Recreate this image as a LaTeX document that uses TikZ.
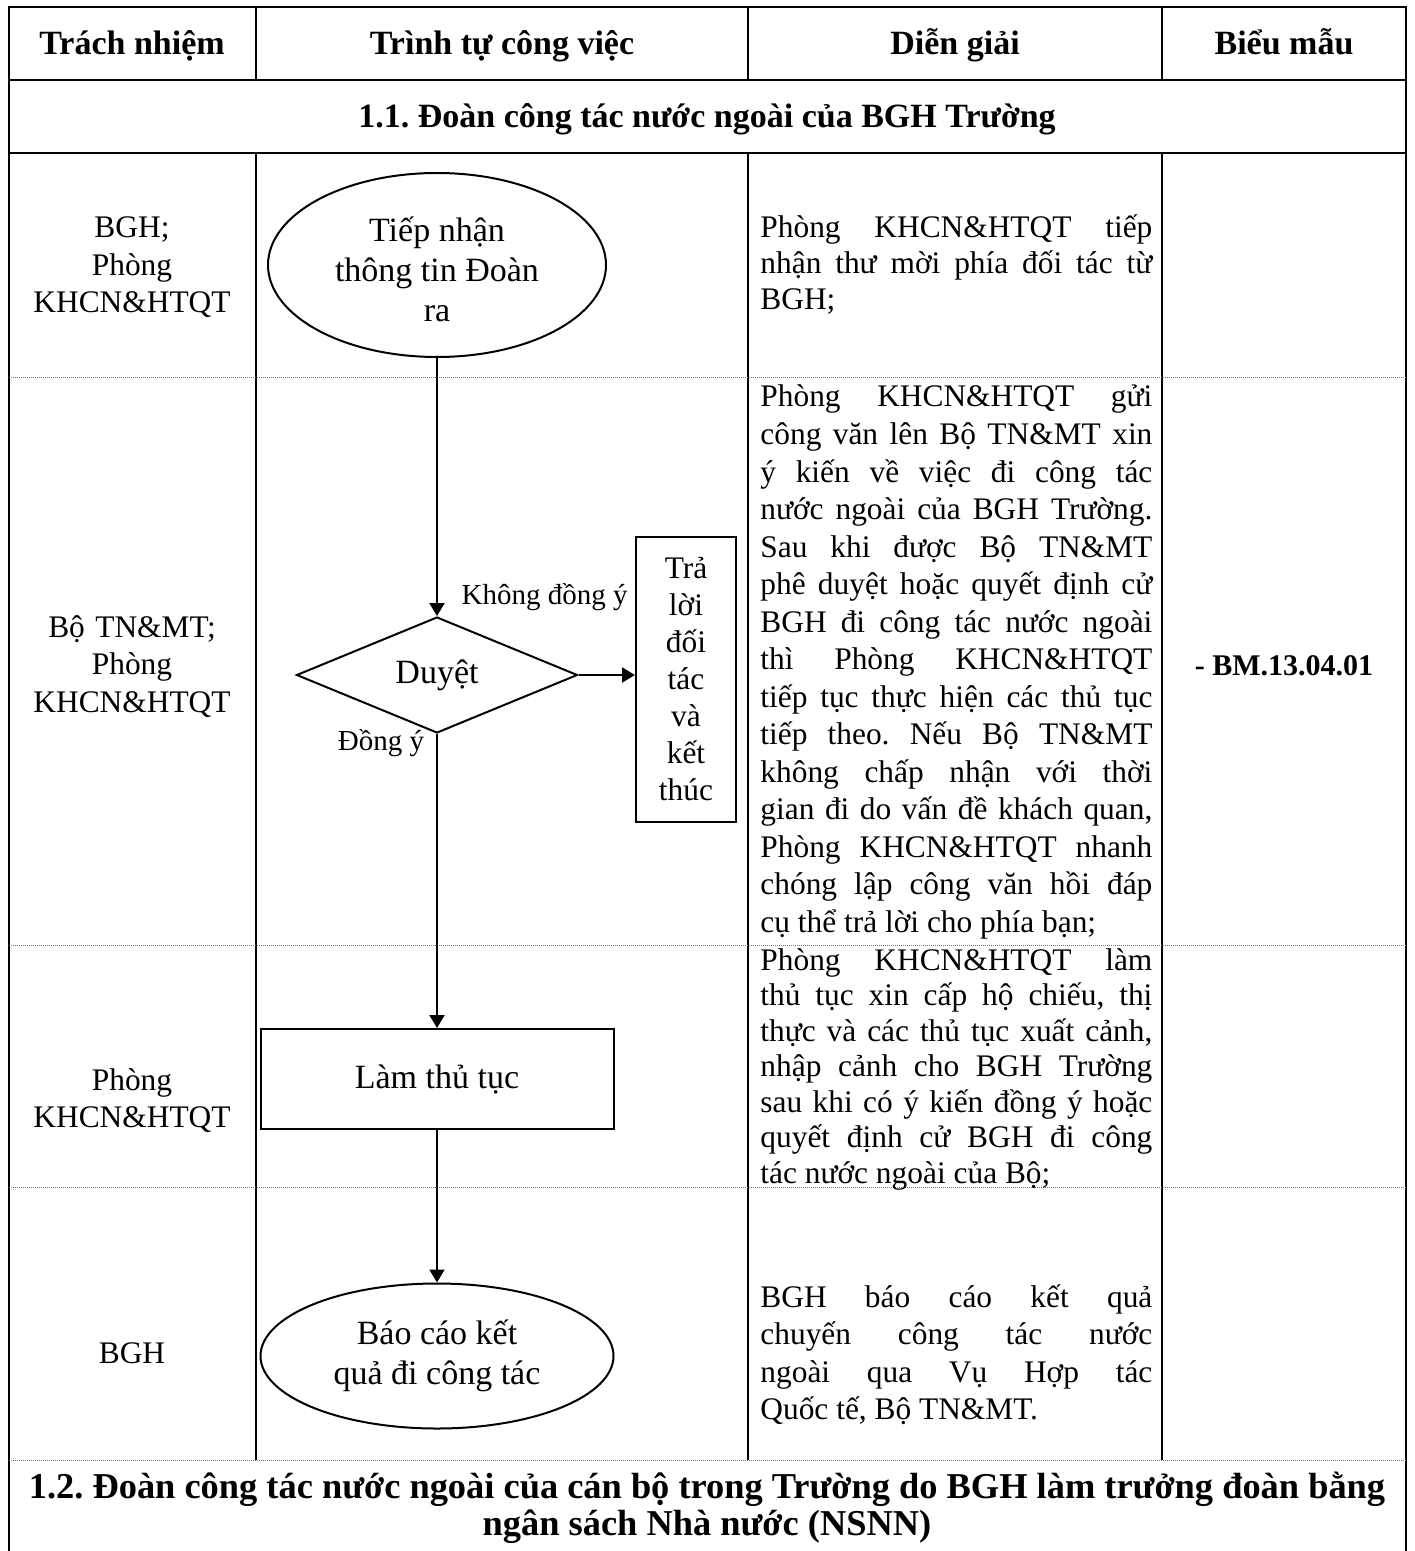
\documentclass[tikz,border=0pt]{standalone}
\usepackage{fontspec}
\setmainfont{Liberation Serif}
\usepackage{tikz}
\usetikzlibrary{shapes.geometric,arrows.meta,positioning}
\tolerance=10000
\hbadness=10000
\frenchspacing

\begin{document}
\begin{tikzpicture}[x=0.5pt, y=-0.5pt,
    rule/.style={line width=1.2pt},
    sepline/.style={line width=0.5pt, black!55, dash pattern=on 0.5pt off 0.5pt},
    hdr/.style={font=\bfseries\fontsize{17}{18.5}\selectfont, anchor=base},
    who/.style={font=\fontsize{15.7}{18.75}\selectfont, text width=115pt, align=center, inner sep=0pt, anchor=base},
    note/.style={font=\fontsize{15.7}{18.75}\selectfont, text width=196pt, align=justify, inner sep=0pt, anchor=base west},
    flow/.style={draw, line width=1pt, font=\fontsize{17}{20}\selectfont, align=center, inner sep=0pt},
    lbl/.style={font=\fontsize{14.5}{17}\selectfont, inner sep=0pt},
    arr/.style={line width=1pt, -{Triangle[length=6.5pt,width=7.5pt]}}]
  \useasboundingbox (0,0) rectangle (1414,1551);

  % Table frame
  \draw[rule] (9,1551) -- (9,7) -- (1406,7) -- (1406,1551);
  \draw[rule] (9,80) -- (1406,80);
  \draw[rule] (9,153) -- (1406,153);
  \foreach \cx in {256,748,1162} {
    \draw[rule] (\cx,7) -- (\cx,80);
    \draw[rule] (\cx,153) -- (\cx,1460);
  }
  \foreach \ry in {377,945,1187,1460}
    \draw[sepline] (9,\ry) -- (1406,\ry);

  % Header
  \node[hdr] (hResp) at (132,55) {Trách nhiệm};
  \node[hdr] (hSteps) at (502,55) {Trình tự công việc};
  \node[hdr] (hNotes) at (955,55) {Diễn giải};
  \node[hdr] (hForms) at (1284,55) {Biểu mẫu};
  \node[hdr] (sec1) at (707,128) {1.1. Đoàn công tác nước ngoài của BGH Trường};

  % Row 1
  \node[who] (r1who) at (132,238) {BGH;\\Phòng\\KHCN\&HTQT};
  \node[flow, ellipse, minimum width=169pt, minimum height=92pt] (start) at (437,265) {\rule{0pt}{17pt}Tiếp nhận\\thông tin Đoàn\\ra};
  \node[note, font=\fontsize{15.7}{18}\selectfont] (r1note) at (760,238) {Phòng KHCN\&HTQT tiếp\linebreak
    nhận thư mời phía đối tác từ\linebreak
    BGH;};

  % Row 2
  \node[who] (r2who) at (132,637) {Bộ TN\&MT;\\Phòng\\KHCN\&HTQT};
  \node[flow, diamond, aspect=2.4, minimum width=140.5pt, minimum height=58pt] (check) at (437,675) {Duyệt};
  \node[flow, minimum width=50pt, minimum height=142.5pt, font=\fontsize{15.7}{18.5}\selectfont] (reply) at (686,679) {Trả\\lời\\đối\\tác\\và\\kết\\thúc};
  \node[lbl, anchor=south east] (noLbl) at (628,611) {Không đồng ý};
  \node[lbl] (yesLbl) at (381,743) {Đồng ý};
  \node[note] (r2note) at (760,407) {Phòng KHCN\&HTQT gửi\linebreak
    công văn lên Bộ TN\&MT xin\linebreak
    ý kiến về việc đi công tác\linebreak
    nước ngoài của BGH Trường.\linebreak
    Sau khi được Bộ TN\&MT\linebreak
    phê duyệt hoặc quyết định cử\linebreak
    BGH đi công tác nước ngoài\linebreak
    thì Phòng KHCN\&HTQT\linebreak
    tiếp tục thực hiện các thủ tục\linebreak
    tiếp theo. Nếu Bộ TN\&MT\linebreak
    không chấp nhận với thời\linebreak
    gian đi do vấn đề khách quan,\linebreak
    Phòng KHCN\&HTQT nhanh\linebreak
    chóng lập công văn hồi đáp\linebreak
    cụ thể trả lời cho phía bạn;};
  \node[font=\bfseries\fontsize{15}{18}\selectfont] (form) at (1284,666) {- BM.13.04.01};

  % Row 3
  \node[who] (r3who) at (132,1090) {Phòng\\KHCN\&HTQT};
  \node[flow, minimum width=176.5pt, minimum height=50pt] (proc) at (437,1079) {Làm thủ tục};
  \node[note, font=\fontsize{15.7}{17.75}\selectfont] (r3note) at (760,970) {Phòng KHCN\&HTQT làm\linebreak
    thủ tục xin cấp hộ chiếu, thị\linebreak
    thực và các thủ tục xuất cảnh,\linebreak
    nhập cảnh cho BGH Trường\linebreak
    sau khi có ý kiến đồng ý hoặc\linebreak
    quyết định cử BGH đi công\linebreak
    tác nước ngoài của Bộ;};

  % Row 4
  \node[who] (r4who) at (132,1363) {BGH};
  \node[flow, ellipse, minimum width=176.5pt, minimum height=72.5pt] (report) at (437,1356) {Báo cáo kết\\quả đi công tác};
  \node[note] (r4note) at (760,1307) {BGH báo cáo kết quả\linebreak
    chuyến công tác nước\linebreak
    ngoài qua Vụ Hợp tác\linebreak
    Quốc tế, Bộ TN\&MT.};

  % Section 1.2
  \node[hdr, anchor=center, align=center, font=\bfseries\fontsize{18.2}{18.5}\selectfont] (sec2) at (707,1508) {1.2. Đoàn công tác nước ngoài của cán bộ trong Trường do BGH làm trưởng đoàn bằng\\ngân sách Nhà nước (NSNN)};

  % Connectors
  \draw[arr] (start) -- (check);
  \draw[arr] (check) -- (check -| reply.west);
  \draw[arr] (check) -- (proc);
  \draw[arr] (proc) -- (report);
\end{tikzpicture}
\end{document}
